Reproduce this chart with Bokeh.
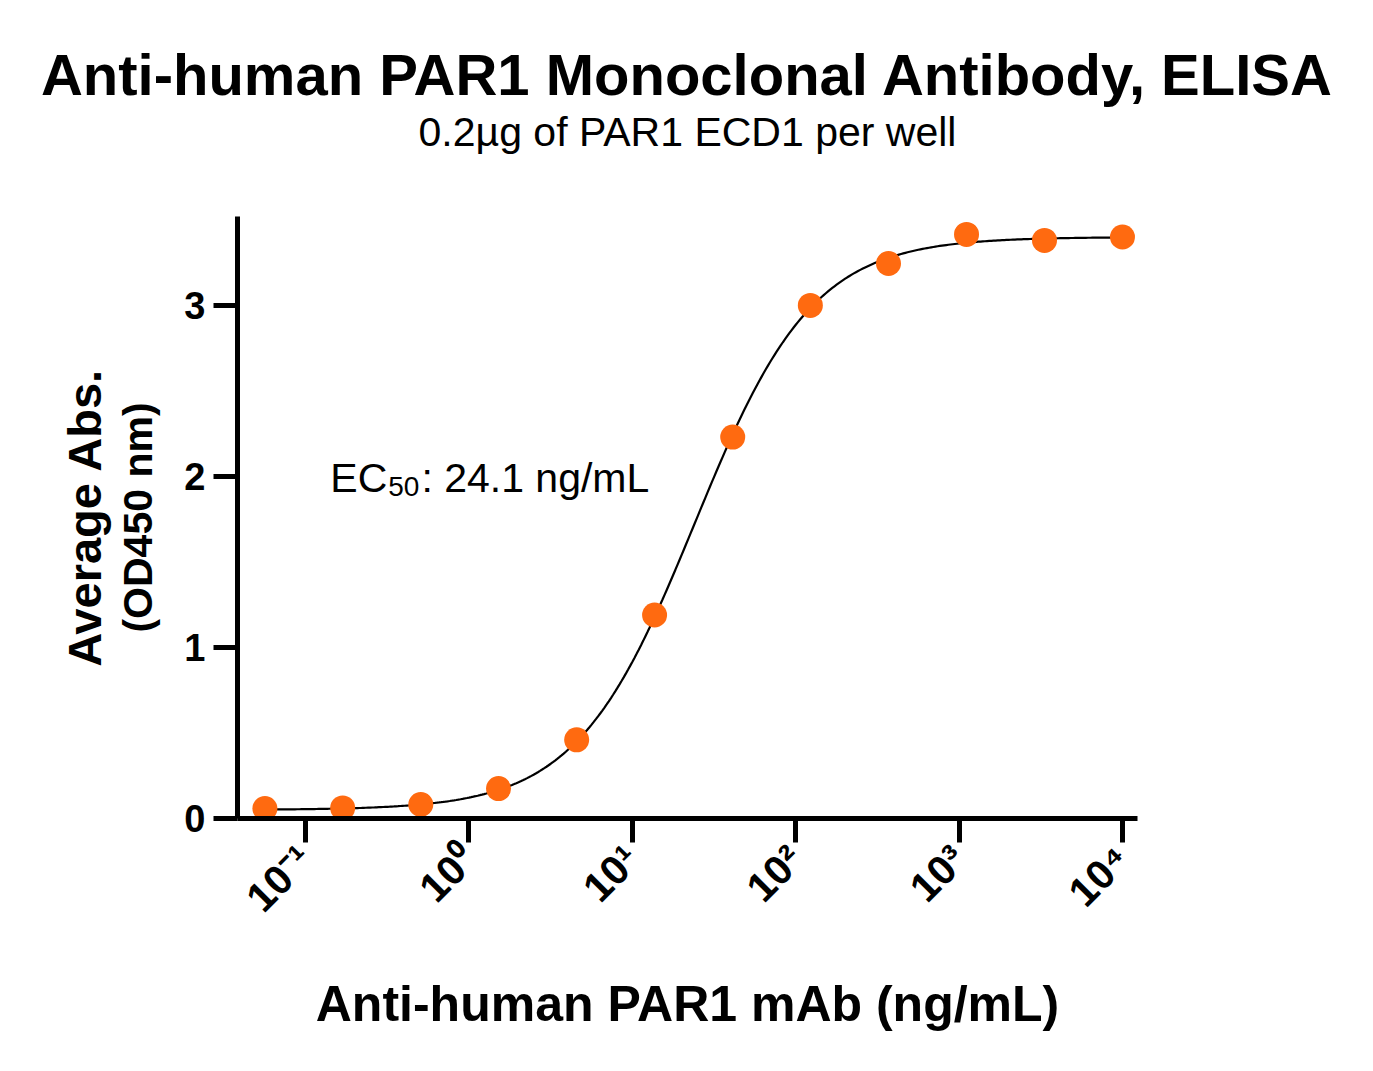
import math
import numpy as np
from bokeh.plotting import figure
from bokeh.models import Title, Label, LinearAxis, FixedTicker, Range1d, ColumnDataSource
from bokeh.embed import file_html
from bokeh.resources import INLINE

# ---------------- data ----------------
title_text = "Anti-human PAR1 Monoclonal Antibody, ELISA"
subtitle_text = "0.2µg of PAR1 ECD1 per well"
x_label = "Anti-human PAR1 mAb (ng/mL)"
y_label_main = "Average Abs."
y_label_sub = "(OD450 nm)"

conc = [0.0565, 0.169, 0.508, 1.52, 4.57, 13.7, 41.2, 123, 370, 1111, 3333, 10000]
absorb = [0.058, 0.062, 0.082, 0.175, 0.46, 1.19, 2.23, 3.00, 3.245, 3.415, 3.38, 3.40]

# four-parameter logistic fit shown as the curve
fit_bottom = 0.05
fit_top = 3.40
fit_ec50 = 24.1
fit_hill = 1.2

ec50_prefix = "EC"
ec50_sub = "50"
ec50_rest = ": 24.1 ng/mL"

x_tick_values = [0.1, 1, 10, 100, 1000, 10000]
x_tick_labels = ["10\u207b\u00b9", "10\u2070", "10\u00b9", "10\u00b2", "10\u00b3", "10\u2074"]
y_tick_values = [0, 1, 2, 3]

x_min, x_max = 0.0384, 12360
y_min, y_max = 0.0, 3.52

FONT = "Liberation Sans"
ORANGE = "#FF6A10"

# ---------------- figure ----------------
p = figure(width=1373, height=1071, x_axis_type="log",
           x_range=Range1d(x_min, x_max), y_range=Range1d(y_min, y_max),
           output_backend="svg", toolbar_location=None, title=None,
           min_border_left=237, min_border_right=236,
           min_border_top=216, min_border_bottom=253)
p.outline_line_color = None
p.grid.visible = False
p.background_fill_color = "white"
p.border_fill_color = "white"

xa = p.below[0]
ya = p.left[0]

# invisible spacer between the frame and the subtitle
spacer = LinearAxis(ticker=FixedTicker(ticks=[1]), axis_line_color=None,
                    major_tick_line_color=None, minor_tick_line_color=None,
                    major_tick_out=62, major_tick_in=0, major_label_standoff=0,
                    major_label_text_font_size="1px", major_label_text_color=None)
p.add_layout(spacer, "above")

# titles
sub = Title(text=subtitle_text, align="center", text_font=FONT,
            text_font_size="41px", text_font_style="normal", text_color="black",
            standoff=0)
p.add_layout(sub, "above")
main = Title(text=title_text, align="center", text_font=FONT,
             text_font_size="58px", text_font_style="bold", text_color="black",
             standoff=0)
p.add_layout(main, "above")

# fitted curve
xs = np.logspace(math.log10(conc[0]), math.log10(conc[-1]), 400)
ys = fit_bottom + (fit_top - fit_bottom) / (1.0 + (fit_ec50 / xs) ** fit_hill)
p.line(xs, ys, line_color="black", line_width=2.2)

# points
src = ColumnDataSource(dict(x=conc, y=absorb))
p.scatter("x", "y", source=src, size=25, fill_color=ORANGE, line_color=None)

# y axis
ya.ticker = FixedTicker(ticks=y_tick_values)
ya.axis_line_width = 5
ya.axis_line_color = "black"
ya.major_tick_line_width = 5
ya.major_tick_line_color = "black"
ya.major_tick_out = 24
ya.major_tick_in = 0
ya.minor_tick_line_color = None
ya.major_label_text_font = FONT
ya.major_label_text_font_size = "38px"
ya.major_label_text_font_style = "bold"
ya.major_label_text_color = "black"
ya.major_label_standoff = 8
ya.axis_label = y_label_sub
ya.axis_label_text_font = FONT
ya.axis_label_text_font_size = "41px"
ya.axis_label_text_font_style = "bold"
ya.axis_label_text_color = "black"
ya.axis_label_standoff = 20

ya2 = LinearAxis(ticker=FixedTicker(ticks=[1]), axis_label=y_label_main,
                 axis_line_color=None, major_tick_line_color=None,
                 minor_tick_line_color=None,
                 major_tick_out=0, major_tick_in=0, major_label_standoff=0,
                 major_label_text_font_size="1px", major_label_text_color=None,
                 axis_label_text_font=FONT, axis_label_text_font_size="47px",
                 axis_label_text_font_style="bold", axis_label_text_color="black",
                 axis_label_standoff=2)
p.add_layout(ya2, "left")

# x axis
xa.ticker = FixedTicker(ticks=x_tick_values)
xa.major_label_overrides = dict(zip(x_tick_values, x_tick_labels))
xa.major_label_orientation = math.pi / 4
xa.axis_line_width = 5
xa.axis_line_color = "black"
xa.major_tick_line_width = 5
xa.major_tick_line_color = "black"
xa.major_tick_out = 24
xa.major_tick_in = 0
xa.minor_tick_line_color = None
xa.major_label_text_font = FONT
xa.major_label_text_font_size = "41px"
xa.major_label_text_font_style = "bold"
xa.major_label_text_color = "black"
xa.major_label_standoff = 10
xa.axis_label = x_label
xa.axis_label_text_font = FONT
xa.axis_label_text_font_size = "50px"
xa.axis_label_text_font_style = "bold"
xa.axis_label_text_color = "black"
xa.axis_label_standoff = 36

# EC50 annotation
ec_x, ec_y = 0.142, 1.99
ec_size = 41
sub_size = 28
ec_w = (0.667 + 0.722) * ec_size
sub_w = 1.112 * sub_size
p.add_layout(Label(x=ec_x, y=ec_y, text=ec50_prefix, text_align="left",
                   text_baseline="alphabetic", text_font=FONT,
                   text_font_size=f"{ec_size}px", text_color="black"))
p.add_layout(Label(x=ec_x, y=ec_y, text=ec50_sub, text_align="left",
                   text_baseline="alphabetic", x_offset=ec_w + 1, y_offset=-8,
                   text_font=FONT, text_font_size=f"{sub_size}px", text_color="black"))
p.add_layout(Label(x=ec_x, y=ec_y, text=ec50_rest, text_align="left",
                   text_baseline="alphabetic", x_offset=ec_w + sub_w + 3,
                   text_font=FONT, text_font_size=f"{ec_size}px", text_color="black"))

open("out.html", "w").write(file_html(p, INLINE))
